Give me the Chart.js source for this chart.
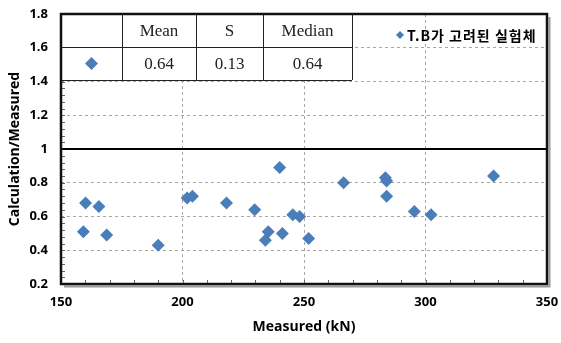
<!DOCTYPE html>
<html>
<head>
<meta charset="utf-8">
<script src="https://cdn.jsdelivr.net/npm/chart.js@4.4.0/dist/chart.umd.min.js"></script>
<style>
  html, body { margin: 0; padding: 0; background: #fff; }
  #wrap { width: 561px; height: 343px; }
</style>
</head>
<body>
<div id="wrap"><canvas id="chart" width="561" height="343"></canvas></div>
<script>
// 측정값 / 계산값 비
const measured = [160.1, 165.6, 159.2, 168.8, 190.0, 201.9, 204.1, 218.1, 229.7, 234.1, 235.3, 240.0,
  241.1, 245.4, 248.2, 251.9, 266.3, 283.5, 284.0, 284.0, 295.4, 302.3, 328.0];
const ratio = [0.68, 0.66, 0.51, 0.49, 0.43, 0.71, 0.72, 0.68, 0.64, 0.46, 0.51, 0.89,
  0.50, 0.61, 0.60, 0.47, 0.80, 0.83, 0.81, 0.72, 0.63, 0.61, 0.84];
const seriesLabel = 'T.B가 고려된 실험체';

// 통계 표
const statHeads = ['Mean', 'S', 'Median'];
const statValues = ['0.64', '0.13', '0.64'];

// 축
const xTicks = [150, 200, 250, 300, 350];
const yTicks = [0.2, 0.4, 0.6, 0.8, 1, 1.2, 1.4, 1.6, 1.8];

const blue = '#4a7ebb';
const tickFont = { family: 'Open Sans', size: 13, weight: 'bold' };
const titleFont = { family: 'Open Sans', size: 14, weight: 'bold' };

const drawDiamond = (ctx, x, y, r) => {
  ctx.beginPath();
  ctx.moveTo(x, y - r);
  ctx.lineTo(x + r, y);
  ctx.lineTo(x, y + r);
  ctx.lineTo(x - r, y);
  ctx.closePath();
  ctx.fillStyle = blue;
  ctx.fill();
};

const overlay = {
  id: 'overlay',
  beforeDatasetsDraw(chart) {
    const { ctx, chartArea: ca, scales: { x, y } } = chart;
    ctx.save();
    // 보조 눈금
    ctx.strokeStyle = '#666';
    ctx.lineWidth = 1;
    ctx.beginPath();
    for (let v = 160; v < 350; v += 10) {
      const px = Math.round(x.getPixelForValue(v)) + 0.5;
      ctx.moveTo(px, ca.bottom);
      ctx.lineTo(px, ca.bottom - 4);
    }
    for (let i = 1; i < 40; i++) {
      const py = Math.round(y.getPixelForValue(0.2 + i * 0.04)) + 0.5;
      ctx.moveTo(ca.left, py);
      ctx.lineTo(ca.left + 4, py);
    }
    ctx.stroke();
    // 1.0 기준선
    const y1 = y.getPixelForValue(1);
    ctx.strokeStyle = '#000';
    ctx.lineWidth = 2;
    ctx.beginPath();
    ctx.moveTo(ca.left, y1);
    ctx.lineTo(ca.right, y1);
    ctx.stroke();
    ctx.restore();
  },
  afterDatasetsDraw(chart) {
    const { ctx, chartArea: ca } = chart;
    ctx.save();
    // 표
    const cols = [0, 61, 135, 202, 291].map(c => ca.left + c);
    const rows = [0, 33, 66].map(r => ca.top + r);
    ctx.fillStyle = '#fff';
    ctx.fillRect(cols[0], rows[0], cols[4] - cols[0], rows[2] - rows[0]);
    ctx.strokeStyle = '#222';
    ctx.lineWidth = 1;
    ctx.beginPath();
    rows.forEach(r => { ctx.moveTo(cols[0], r + 0.5); ctx.lineTo(cols[4], r + 0.5); });
    cols.forEach(c => { ctx.moveTo(c + 0.5, rows[0]); ctx.lineTo(c + 0.5, rows[2]); });
    ctx.stroke();
    ctx.fillStyle = '#222';
    ctx.font = '17px "Liberation Serif"';
    ctx.textAlign = 'center';
    ctx.textBaseline = 'middle';
    statHeads.forEach((h, i) => {
      ctx.fillText(h, (cols[i + 1] + cols[i + 2]) / 2, (rows[0] + rows[1]) / 2 + 1);
    });
    statValues.forEach((v, i) => {
      ctx.fillText(v, (cols[i + 1] + cols[i + 2]) / 2, (rows[1] + rows[2]) / 2 + 1);
    });
    drawDiamond(ctx, (cols[0] + cols[1]) / 2, (rows[1] + rows[2]) / 2, 6.5);

    // 범례
    drawDiamond(ctx, ca.right - 147, ca.top + 21, 4);
    ctx.fillStyle = '#000';
    ctx.font = 'bold 14px "Noto Sans CJK KR"';
    ctx.letterSpacing = '1px';
    ctx.textAlign = 'left';
    ctx.fillText(seriesLabel, ca.right - 140, ca.top + 22);
    ctx.restore();
  },
  afterDraw(chart) {
    const { ctx, chartArea: ca } = chart;
    ctx.save();
    // 그림자
    ctx.strokeStyle = '#9a9a9a';
    ctx.lineWidth = 2;
    ctx.beginPath();
    ctx.moveTo(ca.right + 2.5, ca.top + 3);
    ctx.lineTo(ca.right + 2.5, ca.bottom + 2.5);
    ctx.lineTo(ca.left + 3, ca.bottom + 2.5);
    ctx.stroke();
    // 테두리
    ctx.strokeStyle = '#111';
    ctx.lineWidth = 2.5;
    ctx.strokeRect(ca.left, ca.top, ca.right - ca.left, ca.bottom - ca.top);
    ctx.restore();
  }
};

new Chart(document.getElementById('chart'), {
  type: 'scatter',
  data: {
    datasets: [{
      label: seriesLabel,
      data: measured.map((m, i) => ({ x: m, y: ratio[i] })),
      pointStyle: 'rectRot',
      pointRadius: 6.5,
      pointHoverRadius: 6.5,
      backgroundColor: blue,
      borderColor: blue,
      borderWidth: 0
    }]
  },
  options: {
    responsive: false,
    animation: false,
    layout: { padding: { top: 14, right: 14, left: 0, bottom: 0 } },
    plugins: { legend: { display: false }, tooltip: { enabled: false } },
    scales: {
      x: {
        type: 'linear',
        min: 150,
        max: 350,
        afterFit: s => { s.height = 59; s.paddingLeft = 0; s.paddingRight = 0; },
        afterBuildTicks: s => { s.ticks = xTicks.map(v => ({ value: v })); },
        ticks: { font: tickFont, color: '#000', padding: 10 },
        grid: {
          drawTicks: false,
          color: c => (c.tick.value === 150 || c.tick.value === 350) ? 'rgba(0,0,0,0)' : '#a6a6a6'
        },
        border: { display: false, dash: [3, 3] },
        title: { display: true, text: 'Measured (kN)', font: titleFont, color: '#000', padding: { top: 0, bottom: 8 } }
      },
      y: {
        type: 'linear',
        min: 0.2,
        max: 1.8,
        afterFit: s => { s.width = 61; s.paddingTop = 0; s.paddingBottom = 0; },
        afterBuildTicks: s => { s.ticks = yTicks.map(v => ({ value: v })); },
        ticks: { font: tickFont, color: '#000', padding: 13, callback: v => String(Math.round(v * 10) / 10) },
        grid: {
          drawTicks: false,
          color: c => [0.2, 1, 1.8].includes(Math.round(c.tick.value * 10) / 10) ? 'rgba(0,0,0,0)' : '#a6a6a6'
        },
        border: { display: false, dash: [3, 3] },
        title: { display: true, text: 'Calculation/Measured', font: titleFont, color: '#000', padding: { top: 7, bottom: 0 } }
      }
    }
  },
  plugins: [overlay]
});
</script>
</body>
</html>
